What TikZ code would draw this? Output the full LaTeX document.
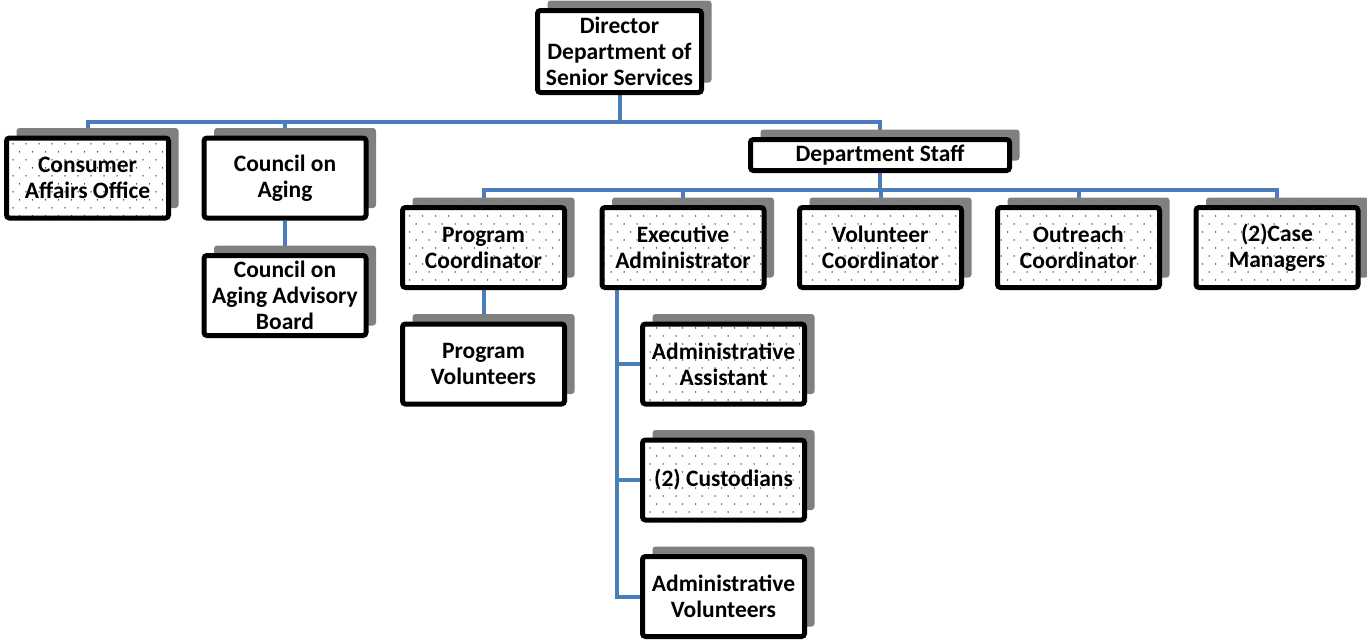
\documentclass[tikz,border=0pt]{standalone}
\usepackage{fontspec}
\setmainfont{Carlito}
\usetikzlibrary{patterns,shadows,backgrounds}
\definecolor{linkblue}{RGB}{74,126,187}
\definecolor{shadowgray}{RGB}{128,128,128}
% staggered dot fill for the highlighted boxes
\pgfdeclarepatternformonly{stagdots}{\pgfpoint{-1pt}{-1pt}}{\pgfpoint{13pt}{16pt}}{\pgfpoint{13pt}{16pt}}{%
  \pgfpathcircle{\pgfpoint{0pt}{0pt}}{0.75pt}%
  \pgfpathcircle{\pgfpoint{6.5pt}{8pt}}{0.75pt}%
  \pgfusepath{fill}}
\begin{document}
\begin{tikzpicture}[x=1pt,y=-1pt,
  box/.style={draw=black, line width=5pt, rounded corners=3pt, fill=white,
    align=center, inner sep=0pt, font=\fontsize{23.5}{26}\selectfont\bfseries,
    minimum width=162pt, minimum height=80pt,
    general shadow={fill=shadowgray, sharp corners, shadow xshift=10pt, shadow yshift=10pt}},
  dotbox/.style={box, postaction={pattern=stagdots, pattern color=black!85}},
  link/.style={draw=linkblue, line width=4pt}]
\useasboundingbox (0,0) rectangle (1367,640);

% top level
\node[box, minimum width=164pt, minimum height=82pt] (dir) at (619.5,51.5) {Director\\Department of\\Senior Services};
\node[dotbox] (cons) at (87.5,178) {Consumer\\Affairs Office};
\node[box] (coa) at (285,178) {Council on\\Aging};
\node[box] (cab) at (285,295.5) {Council on\\Aging Advisory\\Board};
\node[box, minimum width=259pt, minimum height=31pt] (staff) at (880,155) {Department Staff};

% staff row
\node[dotbox] (pc) at (483.5,247.5) {Program\\Coordinator};
\node[dotbox] (ea) at (683,247.5) {Executive\\Administrator};
\node[dotbox] (vc) at (880.5,247.5) {Volunteer\\Coordinator};
\node[dotbox] (oc) at (1078.5,247.5) {Outreach\\Coordinator};
\node[dotbox] (cm) at (1277,247.5) {(2)Case\\Managers};

% below the staff row
\node[box] (pv) at (483.5,364) {Program\\Volunteers};
\node[dotbox] (aa) at (723.5,364) {Administrative\\Assistant};
\node[dotbox] (cus) at (723.5,480) {(2) Custodians};
\node[box] (av) at (723.5,596.5) {Administrative\\Volunteers};

% connectors, kept behind boxes and shadows
\coordinate (busA) at (620,122);
\coordinate (busB) at (880,190);
\coordinate (trunk) at (617,0);
\begin{pgfonlayer}{background}
  \draw[link] (cons.north) |- (busA) -| (staff.north);
  \draw[link] (dir.south) -- (dir.south |- busA);
  \draw[link] (coa.north) -- (coa.north |- busA);
  \draw[link] (coa.south) -- (cab.north);
  \draw[link] (pc.north) |- (busB) -| (cm.north);
  \draw[link] (staff.south) -- (staff.south |- busB);
  \draw[link] (ea.north) -- (ea.north |- busB);
  \draw[link] (vc.north) -- (vc.north |- busB);
  \draw[link] (oc.north) -- (oc.north |- busB);
  \draw[link] (pc.south) -- (pv.north);
  \draw[link] (trunk |- ea.south) |- (aa.west);
  \draw[link] (trunk |- ea.south) |- (cus.west);
  \draw[link] (trunk |- ea.south) |- (av.west);
\end{pgfonlayer}
\end{tikzpicture}
\end{document}
